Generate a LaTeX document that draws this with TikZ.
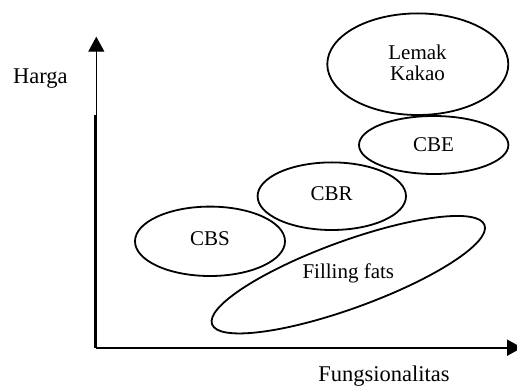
\documentclass[tikz,border=0pt]{standalone}
\usepackage{fontspec}
\setmainfont{Liberation Serif}
\usetikzlibrary{shapes.geometric,arrows.meta}
\begin{document}
\begin{tikzpicture}[x=1pt,y=-1pt,
  blob/.style={ellipse,draw,line width=1.8pt,inner sep=0pt},
  lbl/.style={font=\fontsize{21}{24}\selectfont,align=center},
  axlbl/.style={font=\fontsize{22.5}{26}\selectfont},
  head/.style={-{Triangle[width=16pt,length=15pt]}}]
\useasboundingbox (0,0) rectangle (517,387);
\coordinate (o) at (95.5,347.7);
\coordinate (ymid) at (95.5,115.5);
\coordinate (ymidt) at (96.3,116);
\coordinate (ytop) at (96.3,36.7);
\coordinate (xend) at (522,347.7);
\draw[line width=2.2pt] (o) -- (ymid);
\draw[line width=1.1pt,head] (ymidt) -- (ytop);
\draw[line width=2pt,head] (o) -- (xend);
\node[axlbl] (harga) at (40.3,79) {Harga};
\node[axlbl] (fung) at (384,376) {Fungsionalitas};
\node[blob,minimum width=181pt,minimum height=101.6pt] (lk) at (417.8,64.2) {};
\node[lbl] at (417.5,62.5) {Lemak\\[-3pt]Kakao};
\node[blob,minimum width=149.4pt,minimum height=58pt] (cbe) at (433.7,145) {};
\node[lbl] at (433.5,145) {CBE};
\node[blob,minimum width=148.4pt,minimum height=67.6pt] (cbr) at (331.8,196.2) {};
\node[lbl] at (331.7,193.5) {CBR};
\node[blob,minimum width=150pt,minimum height=69.4pt] (cbs) at (210,241.3) {};
\node[lbl] at (210,238.5) {CBS};
\node[blob,rotate=20,minimum width=290pt,minimum height=67pt] (ff) at (348.3,274.7) {};
\node[lbl] at (348.3,273.3) {Filling fats};
\end{tikzpicture}
\end{document}
